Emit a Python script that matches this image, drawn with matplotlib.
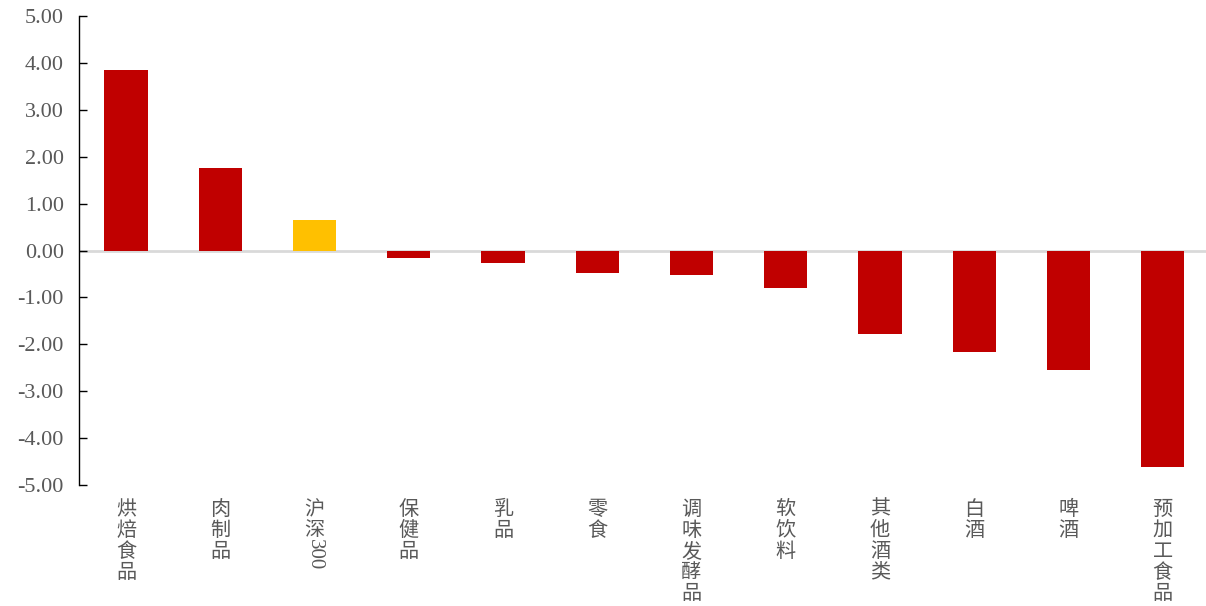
import matplotlib
matplotlib.use('Agg')
import matplotlib.pyplot as plt
import numpy as np

# data
categories = ['烘焙食品', '肉制品', '沪深300', '保健品', '乳品', '零食',
              '调味发酵品', '软饮料', '其他酒类', '白酒', '啤酒', '预加工食品']
values = [3.84, 1.75, 0.66, -0.17, -0.26, -0.47, -0.53, -0.79, -1.79, -2.17, -2.54, -4.61]
colors = ['#C00000', '#C00000', '#FFC000'] + ['#C00000'] * 9
yticks = np.arange(-5, 5.01, 1)

plt.rcParams['font.family'] = ['Noto Sans CJK SC', 'DejaVu Sans']
grey = '#595959'

fig = plt.figure(figsize=(12.06, 6.06), dpi=100)
ax = fig.add_axes([79/1206, 1-485/606, 1-79/1206, (485-16)/606])

x = np.arange(len(categories))
ax.bar(x, values, width=0.46, color=colors, zorder=2)
ax.axhline(0, color='#d9d9d9', lw=2, zorder=1)

ax.set_ylim(-5, 5)
ax.set_xlim(-0.5, 11.46)
ax.set_yticks(yticks)
ax.set_yticklabels(['%.2f' % v for v in yticks], family='Liberation Serif',
                   fontsize=16, color=grey)
ax.tick_params(axis='y', direction='in', length=6, width=1, color='black', pad=11)
ax.set_xticks([])

for s in ['top', 'right', 'bottom']:
    ax.spines[s].set_visible(False)
ax.spines['left'].set_color('black')
ax.spines['left'].set_linewidth(1)

# vertical category labels, characters stacked
for i, name in enumerate(categories):
    if name == '沪深300':
        ax.annotate('\n'.join('沪深'), xy=(i, 0), xycoords=('data', 'axes fraction'),
                    xytext=(0, -10), textcoords='offset points', ha='center', va='top',
                    fontsize=14.5, color=grey, linespacing=1.0)
        ax.annotate('300', xy=(i, 0), xycoords=('data', 'axes fraction'),
                    xytext=(0, -39), textcoords='offset points', ha='center', va='top',
                    fontsize=15, color=grey, rotation=-90, family='Liberation Serif')
    else:
        ax.annotate('\n'.join(name), xy=(i, 0), xycoords=('data', 'axes fraction'),
                    xytext=(0, -10), textcoords='offset points', ha='center', va='top',
                    fontsize=14.5, color=grey, linespacing=1.0)

fig.savefig('out.png', dpi=100)
